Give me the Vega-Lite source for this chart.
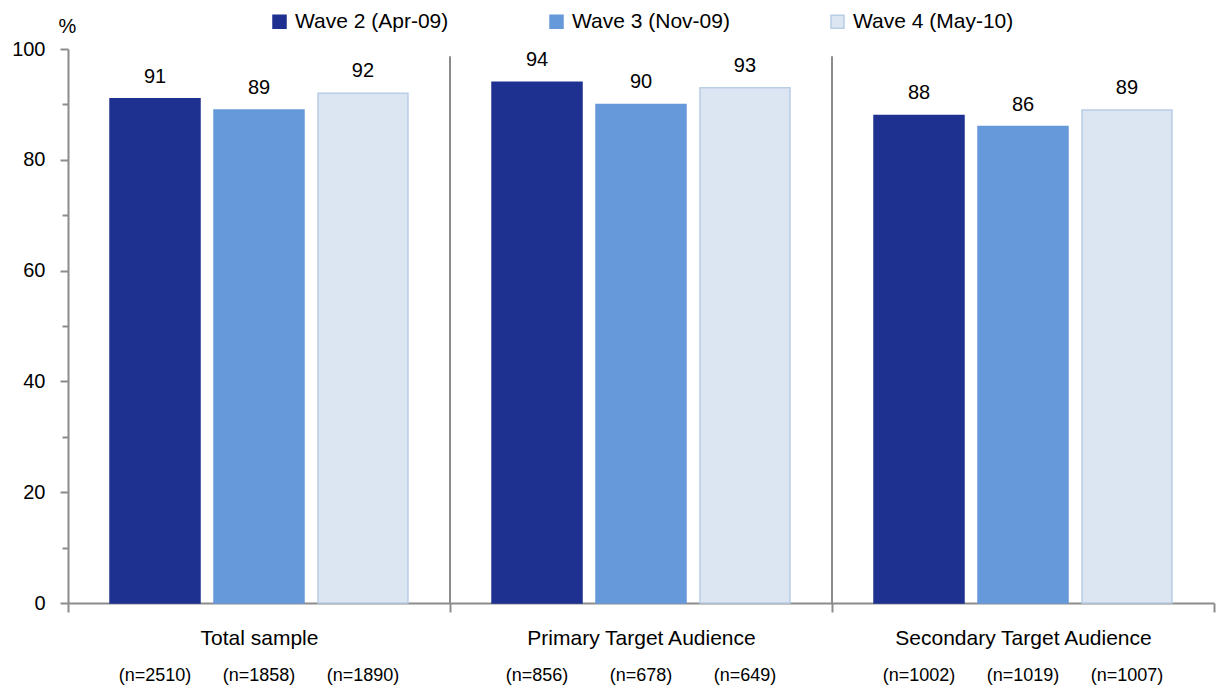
{
  "$schema": "https://vega.github.io/schema/vega-lite/v6.json",
  "autosize": {"type": "none"},
  "padding": {"left": 68, "top": 49, "right": 6, "bottom": 85},
  "width": 1146,
  "height": 554,
  "background": "white",
  "config": {
    "font": "Liberation Sans",
    "view": {"stroke": null},
    "axis": {"grid": false, "labelFont": "Liberation Sans", "titleFont": "Liberation Sans"},
    "legend": {"labelFont": "Liberation Sans"}
  },
  "data": {
    "values": [
      {"group": "Total sample", "wave": "Wave 2 (Apr-09)", "pct": 91, "n": "(n=2510)"},
      {"group": "Total sample", "wave": "Wave 3 (Nov-09)", "pct": 89, "n": "(n=1858)"},
      {"group": "Total sample", "wave": "Wave 4 (May-10)", "pct": 92, "n": "(n=1890)"},
      {"group": "Primary Target Audience", "wave": "Wave 2 (Apr-09)", "pct": 94, "n": "(n=856)"},
      {"group": "Primary Target Audience", "wave": "Wave 3 (Nov-09)", "pct": 90, "n": "(n=678)"},
      {"group": "Primary Target Audience", "wave": "Wave 4 (May-10)", "pct": 93, "n": "(n=649)"},
      {"group": "Secondary Target Audience", "wave": "Wave 2 (Apr-09)", "pct": 88, "n": "(n=1002)"},
      {"group": "Secondary Target Audience", "wave": "Wave 3 (Nov-09)", "pct": 86, "n": "(n=1019)"},
      {"group": "Secondary Target Audience", "wave": "Wave 4 (May-10)", "pct": 89, "n": "(n=1007)"}
    ]
  },
  "resolve": {"axis": {"y": "independent"}},
  "layer": [
    {
      "mark": {"type": "bar", "strokeWidth": 1.5},
      "encoding": {
        "x": {
          "field": "group", "type": "nominal",
          "sort": ["Total sample", "Primary Target Audience", "Secondary Target Audience"],
          "scale": {"paddingInner": 0, "paddingOuter": 0},
          "axis": {
            "title": null, "tickBand": "extent", "labelAngle": 0, "labelLimit": 0,
            "domainColor": "#8c8c8c", "domainWidth": 2,
            "tickColor": "#8c8c8c", "tickWidth": 2, "tickSize": 9,
            "labelFontSize": 21, "labelColor": "#000", "labelPadding": 15, "labelBaseline": "top"
          }
        },
        "xOffset": {
          "field": "wave", "type": "nominal",
          "sort": ["Wave 2 (Apr-09)", "Wave 3 (Nov-09)", "Wave 4 (May-10)"],
          "scale": {"paddingInner": 0.1346, "paddingOuter": 0.404}
        },
        "y": {
          "field": "pct", "type": "quantitative",
          "scale": {"domain": [0, 100], "nice": false},
          "axis": {
            "orient": "left",
            "values": [0, 20, 40, 60, 80, 100],
            "title": "%", "titleAngle": 0, "titleX": -1, "titleY": -23,
            "titleAlign": "center", "titleBaseline": "middle",
            "titleFontSize": 20, "titleFontWeight": "normal", "titleColor": "#000",
            "domainColor": "#8c8c8c", "domainWidth": 2,
            "tickColor": "#8c8c8c", "tickWidth": 2, "tickSize": 8,
            "labelFontSize": 20, "labelColor": "#000", "labelPadding": 15
          }
        },
        "fill": {
          "field": "wave", "type": "nominal",
          "scale": {
            "domain": ["Wave 2 (Apr-09)", "Wave 3 (Nov-09)", "Wave 4 (May-10)"],
            "range": ["#1f3190", "#6699d9", "#dce6f2"]
          },
          "legend": {
            "title": null, "orient": "none", "direction": "horizontal",
            "legendX": 201, "legendY": -38,
            "symbolType": "square", "symbolSize": 169, "symbolStrokeWidth": 1.5,
            "labelFontSize": 21, "labelColor": "#000", "labelOffset": 5,
            "labelLimit": 300, "columnPadding": 97
          }
        },
        "stroke": {
          "field": "wave", "type": "nominal",
          "scale": {
            "domain": ["Wave 2 (Apr-09)", "Wave 3 (Nov-09)", "Wave 4 (May-10)"],
            "range": ["#1f3190", "#6699d9", "#b9cde5"]
          },
          "legend": {
            "title": null, "orient": "none", "direction": "horizontal",
            "legendX": 201, "legendY": -38,
            "symbolType": "square", "symbolSize": 169, "symbolStrokeWidth": 1.5,
            "labelFontSize": 21, "labelColor": "#000", "labelOffset": 5,
            "labelLimit": 300, "columnPadding": 97
          }
        }
      }
    },
    {
      "transform": [
        {"filter": "datum.wave === 'Wave 2 (Apr-09)' && datum.group !== 'Total sample'"}
      ],
      "mark": {"type": "rule", "color": "#8c8c8c", "strokeWidth": 2},
      "encoding": {
        "x": {
          "field": "group", "type": "nominal", "bandPosition": 0,
          "sort": ["Total sample", "Primary Target Audience", "Secondary Target Audience"]
        },
        "y": {
          "datum": 98.7, "type": "quantitative",
          "axis": {
            "orient": "left", "values": [10, 30, 50, 70, 90],
            "tickSize": 6, "tickColor": "#8c8c8c", "tickWidth": 2,
            "labels": false, "domain": false, "title": null
          }
        },
        "y2": {"datum": 0}
      }
    },
    {
      "mark": {"type": "text", "baseline": "alphabetic", "dy": -16, "fontSize": 20, "color": "#000"},
      "encoding": {
        "x": {
          "field": "group", "type": "nominal",
          "sort": ["Total sample", "Primary Target Audience", "Secondary Target Audience"]
        },
        "xOffset": {
          "field": "wave", "type": "nominal",
          "sort": ["Wave 2 (Apr-09)", "Wave 3 (Nov-09)", "Wave 4 (May-10)"]
        },
        "y": {"field": "pct", "type": "quantitative", "axis": null},
        "text": {"field": "pct", "type": "quantitative"}
      }
    },
    {
      "mark": {"type": "text", "baseline": "middle", "fontSize": 18, "color": "#000"},
      "encoding": {
        "x": {
          "field": "group", "type": "nominal",
          "sort": ["Total sample", "Primary Target Audience", "Secondary Target Audience"]
        },
        "xOffset": {
          "field": "wave", "type": "nominal",
          "sort": ["Wave 2 (Apr-09)", "Wave 3 (Nov-09)", "Wave 4 (May-10)"]
        },
        "y": {"datum": -13.2, "type": "quantitative", "axis": null},
        "text": {"field": "n", "type": "nominal"}
      }
    }
  ]
}
